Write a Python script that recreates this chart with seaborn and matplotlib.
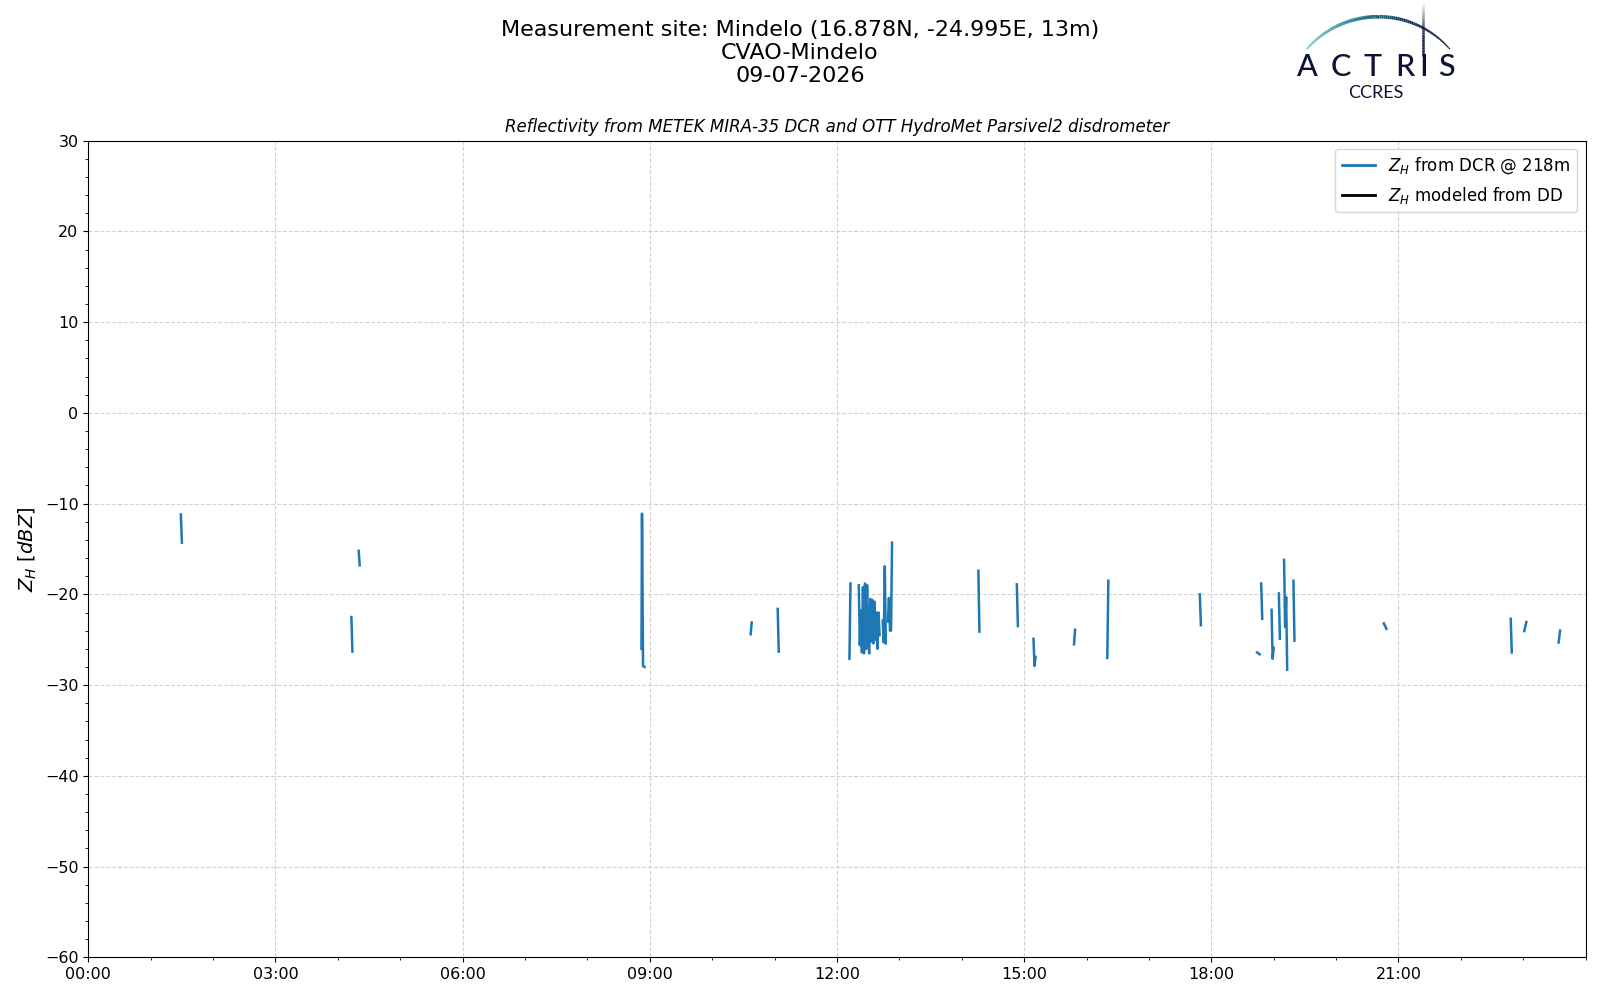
import numpy as np
import pandas as pd
import seaborn as sns
import matplotlib.pyplot as plt
from matplotlib.lines import Line2D
from matplotlib.collections import LineCollection
from matplotlib.ticker import MultipleLocator, FixedLocator, FuncFormatter

# radar reflectivity at 218 m, minute of day / dBZ, NaN = no echo
minutes = [89, 90, np.nan,
           253, 254, np.nan,
           260, 261, np.nan,
           532, 532.5, 533.5, 535, np.nan,
           637, 638, np.nan,
           663, 664, np.nan,
           732, 733, np.nan,
           741, 742, 743, 744, 745, 746, 747, 748, 749, 750, 751, 752, 753,
           754, 755, 756, 757, 758, 759, 760, 761, np.nan,
           764, 765, 766, 767, np.nan,
           769, 770, 771, 772, 773, np.nan,
           856, 857, np.nan,
           893, 894, np.nan,
           909, 910, 911, np.nan,
           948, 949, np.nan,
           980, 981, np.nan,
           1069, 1070, np.nan,
           1124, 1126.5, np.nan,
           1128, 1129, np.nan,
           1138, 1139, 1140, np.nan,
           1145, 1146, np.nan,
           1150, 1151, 1152, 1153, np.nan,
           1159, 1160, np.nan,
           1246, 1248.5, np.nan,
           1368, 1369, np.nan,
           1381, 1383, np.nan,
           1414, 1415.5]
zh_dcr = [-11.2, -14.3, np.nan,
          -22.5, -26.3, np.nan,
          -15.2, -16.8, np.nan,
          -26.0, -11.1, -27.9, -28.0, np.nan,
          -24.4, -23.1, np.nan,
          -21.6, -26.3, np.nan,
          -27.1, -18.8, np.nan,
          -19.0, -25.6, -21.8, -26.4, -19.2, -26.5, -18.8, -26.0, -19.0, -25.0, -26.5, -20.5, -25.2,
          -20.6, -25.4, -20.8, -25.0, -22.0, -26.0, -22.0, -24.5, np.nan,
          -22.9, -25.3, -16.9, -25.4, np.nan,
          -23.0, -20.4, -24.0, -24.0, -14.3, np.nan,
          -17.4, -24.1, np.nan,
          -18.9, -23.5, np.nan,
          -24.9, -27.9, -26.9, np.nan,
          -25.5, -23.9, np.nan,
          -27.0, -18.5, np.nan,
          -20.0, -23.4, np.nan,
          -26.4, -26.6, np.nan,
          -18.8, -22.7, np.nan,
          -21.7, -27.1, -25.9, np.nan,
          -19.9, -24.9, np.nan,
          -16.2, -23.6, -20.3, -28.3, np.nan,
          -18.5, -25.1, np.nan,
          -23.2, -23.8, np.nan,
          -22.7, -26.4, np.nan,
          -24.05, -23.05, np.nan,
          -25.3, -24.0]

hour_ticks = [0, 3, 6, 9, 12, 15, 18, 21]

df = pd.DataFrame({'minute': minutes, 'zh': zh_dcr})
df['seg'] = df['zh'].isna().cumsum()
df = df.dropna()
df['hour'] = df['minute'] / 60.0

fig = plt.figure(figsize=(16, 10), dpi=100)
ax = fig.add_axes([0.0552, 0.0427, 0.9358, 0.8166])

sns.lineplot(data=df, x='hour', y='zh', units='seg', estimator=None, sort=False,
             color='#1f77b4', linewidth=1.8, ax=ax)

ax.set_xlim(0, 24)
ax.set_ylim(-60, 30)
ax.xaxis.set_major_locator(FixedLocator(hour_ticks))
ax.xaxis.set_major_formatter(FuncFormatter(lambda v, p: '%02d:00' % int(round(v))))
ax.xaxis.set_minor_locator(MultipleLocator(1))
ax.yaxis.set_major_locator(MultipleLocator(10))
ax.yaxis.set_minor_locator(MultipleLocator(2))
ax.tick_params(labelsize=11.5)
ax.grid(True, which='major', linestyle='--', color='lightgray', linewidth=0.8)
ax.set_xlabel('')
ax.set_ylabel('$Z_H$ [$dBZ$]', fontsize=14)
ax.set_title('Reflectivity from METEK MIRA-35 DCR and OTT HydroMet Parsivel2 disdrometer',
             fontstyle='italic', fontsize=12)

handles = [Line2D([], [], color='#1f77b4', lw=2),
           Line2D([], [], color='black', lw=2)]
ax.legend(handles, ['$Z_H$ from DCR @ 218m', '$Z_H$ modeled from DD'],
          loc='upper right', fontsize=12)

fig.text(0.5, 0.98, 'Measurement site: Mindelo (16.878N, -24.995E, 13m)\nCVAO-Mindelo\n09-07-2026',
         ha='center', va='top', fontsize=16, linespacing=1.18)

# ACTRIS logo
logo = fig.add_axes([1280 / 1600, 1 - 105 / 1000, 190 / 1600, 105 / 1000])
logo.set_xlim(1280, 1470)
logo.set_ylim(105, 0)
logo.axis('off')
t = np.linspace(np.radians(138.8), np.radians(41.2), 80)
cx, cy, r = 1378.3, 111.9, 95.2
px = cx + r * np.cos(t)
py = cy - r * np.sin(t)
pts = np.column_stack([px, py]).reshape(-1, 1, 2)
segs = np.concatenate([pts[:-1], pts[1:]], axis=1)
cmap = sns.blend_palette(['#86d0c8', '#2a8a95', '#123a5a', '#0d1236'], as_cmap=True)
frac = np.linspace(0, 1, len(segs))
lc = LineCollection(segs, colors=cmap(frac),
                    linewidths=0.8 + 1.8 * np.sin(np.pi * np.clip(frac * 0.9 + 0.1, 0, 1)))
logo.add_collection(lc)
vy = np.linspace(1.7, 56, 30)
vpts = np.column_stack([np.full_like(vy, 1423.3), vy]).reshape(-1, 1, 2)
vsegs = np.concatenate([vpts[:-1], vpts[1:]], axis=1)
valpha = np.clip(np.linspace(0, 1.6, len(vsegs)), 0, 1)
vcols = np.array([[0.05, 0.07, 0.21, a] for a in valpha])
logo.add_collection(LineCollection(vsegs, colors=vcols, linewidths=1.8))
for letter, lx in zip('ACTRIS', [1307.5, 1341, 1373, 1405, 1423.3, 1446.7]):
    logo.text(lx, 67.5, letter, ha='center', va='center', fontsize=22,
              family='Lato', color='#0d1236', fontweight='medium')
logo.text(1376, 92.7, 'CCRES', ha='center', va='center', fontsize=13,
          family='Lato', color='#0d1236')

fig.savefig('out.png', dpi=100)
